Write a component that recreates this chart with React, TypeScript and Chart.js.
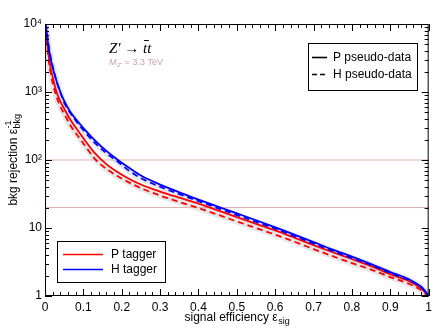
import React, { useEffect, useRef } from "react";
import { Chart, registerables } from "chart.js";

Chart.register(...registerables);

// ---------------- data ----------------
const effValues = [0.002, 0.005, 0.01, 0.015, 0.02, 0.03, 0.04, 0.05, 0.065, 0.08, 0.1, 0.13, 0.16, 0.19, 0.22, 0.25, 0.3, 0.35, 0.4, 0.45, 0.5, 0.55, 0.6, 0.65, 0.7, 0.75, 0.8, 0.85, 0.9, 0.93, 0.95, 0.97, 0.98, 0.99, 1.0];

// H tagger, P pseudo-data (blue solid)
const hTaggerP = [10000, 7000, 4300, 3000, 2300, 1450, 1000, 740, 520, 400, 295, 195, 136, 100, 76, 59, 43.5, 33.5, 26.2, 20.7, 16.4, 13, 10.2, 8, 6.2, 4.8, 3.8, 2.95, 2.25, 1.95, 1.75, 1.5, 1.38, 1.2, 1];
// H tagger, H pseudo-data (blue dashed)
const hTaggerH = [10000, 7500, 4600, 3200, 2400, 1450, 980, 700, 500, 380, 275, 178, 126, 94, 69, 54, 40.5, 31.5, 24.8, 19.6, 15.5, 12.3, 9.8, 7.6, 5.9, 4.6, 3.6, 2.85, 2.18, 1.88, 1.7, 1.47, 1.35, 1.18, 1];
// P tagger, P pseudo-data (red solid)
const pTaggerP = [9500, 5800, 3300, 2200, 1650, 1000, 730, 570, 400, 300, 210, 126, 87, 66, 52.5, 43.6, 34.3, 27.9, 22.9, 18.2, 14.5, 11.5, 9.2, 7.2, 5.6, 4.4, 3.5, 2.75, 2.1, 1.82, 1.64, 1.42, 1.3, 1.15, 1];
// P tagger, H pseudo-data (red dashed)
const pTaggerH = [8500, 5000, 2800, 1850, 1350, 850, 610, 480, 330, 250, 175, 104, 74, 57.5, 46.5, 38.5, 30, 24.2, 19.6, 15.7, 12.5, 10, 8.0, 6.3, 4.9, 3.85, 3.05, 2.45, 1.9, 1.66, 1.5, 1.32, 1.22, 1.1, 1];

const refLines = [100, 20];

const xTicks = [0, 0.1, 0.2, 0.3, 0.4, 0.5, 0.6, 0.7, 0.8, 0.9, 1];
const xTickLabels = ["0", "0.1", "0.2", "0.3", "0.4", "0.5", "0.6", "0.7", "0.8", "0.9", "1"];
const yTicks = [1, 10, 100, 1000, 10000];
const yTickLabels = ["1", "10", "10\u00B2", "10\u00B3", "10\u2074"];

const legendStyle = ["P pseudo-data", "H pseudo-data"];
const legendTagger = ["P tagger", "H tagger"];

const RED = "#ff0000";
const BLUE = "#0000ff";
const FONT = "'Liberation Sans', Arial, Helvetica, sans-serif";

const pts = (ys: number[]) => effValues.map((x, i) => ({ x, y: ys[i] }));

const overlayPlugin = {
  id: "overlay",
  afterDraw(chart: any) {
    const ctx = chart.ctx as CanvasRenderingContext2D;
    const { left, right, top, bottom } = chart.chartArea;
    const xs = chart.scales.x;
    const ys = chart.scales.y;
    ctx.save();
    // frame
    ctx.strokeStyle = "#000";
    ctx.lineWidth = 1;
    ctx.strokeRect(left + 0.5, top + 0.5, right - left - 1, bottom - top - 1);

    // x ticks (inward, bottom and top)
    ctx.beginPath();
    for (let i = 0; i <= 50; i++) {
      const v = i / 50;
      const px = Math.round(xs.getPixelForValue(v)) + 0.5;
      const len = i % 5 === 0 ? 7 : 4;
      ctx.moveTo(px, bottom);
      ctx.lineTo(px, bottom - len);
      ctx.moveTo(px, top);
      ctx.lineTo(px, top + len);
    }
    // y ticks (log)
    for (let d = 0; d < 4; d++) {
      for (let m = 1; m <= 9; m++) {
        const v = m * Math.pow(10, d);
        const py = Math.round(ys.getPixelForValue(v)) + 0.5;
        const len = m === 1 ? 7 : 4;
        ctx.moveTo(left, py);
        ctx.lineTo(left + len, py);
        ctx.moveTo(right, py);
        ctx.lineTo(right - len, py);
      }
    }
    ctx.stroke();

    // axis titles
    ctx.fillStyle = "#000";
    ctx.textBaseline = "alphabetic";
    const mainF = `12px ${FONT}`;
    const subF = `9px ${FONT}`;
    ctx.font = mainF;
    const xt1 = "signal efficiency \u03B5";
    const w1 = ctx.measureText(xt1).width;
    ctx.font = subF;
    const w2 = ctx.measureText("sig").width;
    const xStart = (left + right) / 2 - (w1 + w2) / 2;
    ctx.font = mainF;
    ctx.textAlign = "left";
    ctx.fillText(xt1, xStart, 321);
    ctx.font = subF;
    ctx.fillText("sig", xStart + w1 + 0.5, 324);

    // y title rotated
    ctx.save();
    ctx.translate(17, (top + bottom) / 2);
    ctx.rotate(-Math.PI / 2);
    ctx.font = mainF;
    const yt1 = "bkg rejection \u03B5";
    const yw1 = ctx.measureText(yt1).width;
    ctx.font = subF;
    const yw2 = ctx.measureText("bkg").width;
    const ys0 = -(yw1 + yw2) / 2;
    ctx.font = mainF;
    ctx.fillText(yt1, ys0, 0);
    ctx.font = subF;
    ctx.fillText("-1", ys0 + yw1 + 0.5, -6);
    ctx.fillText("bkg", ys0 + yw1 + 0.5, 3);
    ctx.restore();

    // annotation
    ctx.font = `italic 15px 'Liberation Serif', 'Times New Roman', serif`;
    ctx.fillStyle = "#000";
    const ax = 109;
    const ay = 53;
    const a1 = "Z\u2032 \u2192 ";
    ctx.fillText(a1, ax, ay);
    const aw = ctx.measureText(a1).width;
    ctx.fillText("t", ax + aw, ay);
    const tw = ctx.measureText("t").width;
    ctx.fillText("t", ax + aw + tw, ay);
    ctx.beginPath();
    ctx.lineWidth = 1;
    ctx.moveTo(ax + aw + 1, ay - 12.5);
    ctx.lineTo(ax + aw + tw + 1.5, ay - 12.5);
    ctx.stroke();

    ctx.fillStyle = "#c9a2a2";
    ctx.font = `italic 9px ${FONT}`;
    ctx.fillText("M", ax, 65);
    const mw = ctx.measureText("M").width;
    ctx.font = `italic 6px ${FONT}`;
    ctx.fillText("Z\u2032", ax + mw + 0.5, 67);
    const zw = ctx.measureText("Z\u2032").width;
    ctx.font = `9px ${FONT}`;
    ctx.fillText(" = 3.3 TeV", ax + mw + zw + 1, 65);

    // legend 1 (line styles)
    ctx.fillStyle = "#fff";
    ctx.fillRect(308.5, 43.5, 109, 47);
    ctx.strokeStyle = "#000";
    ctx.lineWidth = 1;
    ctx.strokeRect(308.5, 43.5, 109, 47);
    ctx.font = `12px ${FONT}`;
    ctx.fillStyle = "#000";
    ctx.textBaseline = "middle";
    ctx.lineWidth = 1.6;
    ctx.setLineDash([]);
    ctx.beginPath();
    ctx.moveTo(312, 57.5);
    ctx.lineTo(327, 57.5);
    ctx.stroke();
    ctx.setLineDash([5, 3]);
    ctx.beginPath();
    ctx.moveTo(312, 74.5);
    ctx.lineTo(328, 74.5);
    ctx.stroke();
    ctx.setLineDash([]);
    ctx.fillText(legendStyle[0], 333, 58);
    ctx.fillText(legendStyle[1], 333, 75);

    // legend 2 (taggers)
    ctx.fillStyle = "#fff";
    ctx.fillRect(57.5, 241.5, 108, 41);
    ctx.strokeStyle = "#000";
    ctx.lineWidth = 1;
    ctx.strokeRect(57.5, 241.5, 108, 41);
    ctx.lineWidth = 1.6;
    ctx.strokeStyle = RED;
    ctx.beginPath();
    ctx.moveTo(63, 254.5);
    ctx.lineTo(103, 254.5);
    ctx.stroke();
    ctx.strokeStyle = BLUE;
    ctx.beginPath();
    ctx.moveTo(63, 269.5);
    ctx.lineTo(103, 269.5);
    ctx.stroke();
    ctx.fillStyle = "#000";
    ctx.fillText(legendTagger[0], 111, 255);
    ctx.fillText(legendTagger[1], 111, 270);

    ctx.restore();
  },
};

export default function App() {
  const ref = useRef<HTMLCanvasElement | null>(null);

  useEffect(() => {
    document.body.style.margin = "0";
    const canvas = ref.current;
    if (!canvas) return;

    const band = (ys: number[]) => ({
      data: pts(ys),
      borderColor: "rgba(200,200,200,0.45)",
      borderWidth: 6,
      pointRadius: 0,
      cubicInterpolationMode: "monotone" as const,
    });

    const chart = new Chart(canvas, {
      type: "line",
      data: {
        datasets: [
          { label: "H tagger (P)", data: pts(hTaggerP), borderColor: BLUE, borderWidth: 1.8, pointRadius: 0, cubicInterpolationMode: "monotone" },
          { label: "H tagger (H)", data: pts(hTaggerH), borderColor: BLUE, borderWidth: 1.8, borderDash: [6, 4], pointRadius: 0, cubicInterpolationMode: "monotone" },
          { label: "P tagger (P)", data: pts(pTaggerP), borderColor: RED, borderWidth: 1.8, pointRadius: 0, cubicInterpolationMode: "monotone" },
          { label: "P tagger (H)", data: pts(pTaggerH), borderColor: RED, borderWidth: 1.8, borderDash: [6, 4], pointRadius: 0, cubicInterpolationMode: "monotone" },
          band(hTaggerH),
          band(pTaggerH),
          ...refLines.map((v) => ({
            data: [{ x: 0, y: v }, { x: 1, y: v }],
            borderColor: "rgba(218,168,168,0.9)",
            borderWidth: 1,
            pointRadius: 0,
          })),
        ] as any,
      },
      options: {
        responsive: false,
        animation: false,
        devicePixelRatio: 1,
        layout: { padding: { top: 24, right: 4, left: 0, bottom: 0 } },
        plugins: { legend: { display: false }, tooltip: { enabled: false } },
        scales: {
          x: {
            type: "linear",
            min: 0,
            max: 1,
            afterBuildTicks: (s: any) => {
              s.ticks = xTicks.map((v) => ({ value: v }));
            },
            afterFit: (s: any) => {
              s.height = 33;
            },
            ticks: {
              autoSkip: false,
              maxRotation: 0,
              padding: 4,
              color: "#000",
              font: { family: FONT, size: 12 },
              callback: (_v: any, i: number) => xTickLabels[i],
            },
            grid: { display: false, drawTicks: false },
            border: { display: false },
          },
          y: {
            type: "logarithmic",
            min: 1,
            max: 10000,
            afterBuildTicks: (s: any) => {
              s.ticks = yTicks.map((v) => ({ value: v }));
            },
            afterFit: (s: any) => {
              s.width = 45;
            },
            ticks: {
              autoSkip: false,
              padding: 3,
              color: "#000",
              font: { family: FONT, size: 12 },
              callback: (_v: any, i: number) => yTickLabels[i],
            },
            grid: { display: false, drawTicks: false },
            border: { display: false },
          },
        },
      },
      plugins: [overlayPlugin],
    });

    return () => chart.destroy();
  }, []);

  return <canvas ref={ref} width={436} height={329} style={{ display: "block" }} />;
}
